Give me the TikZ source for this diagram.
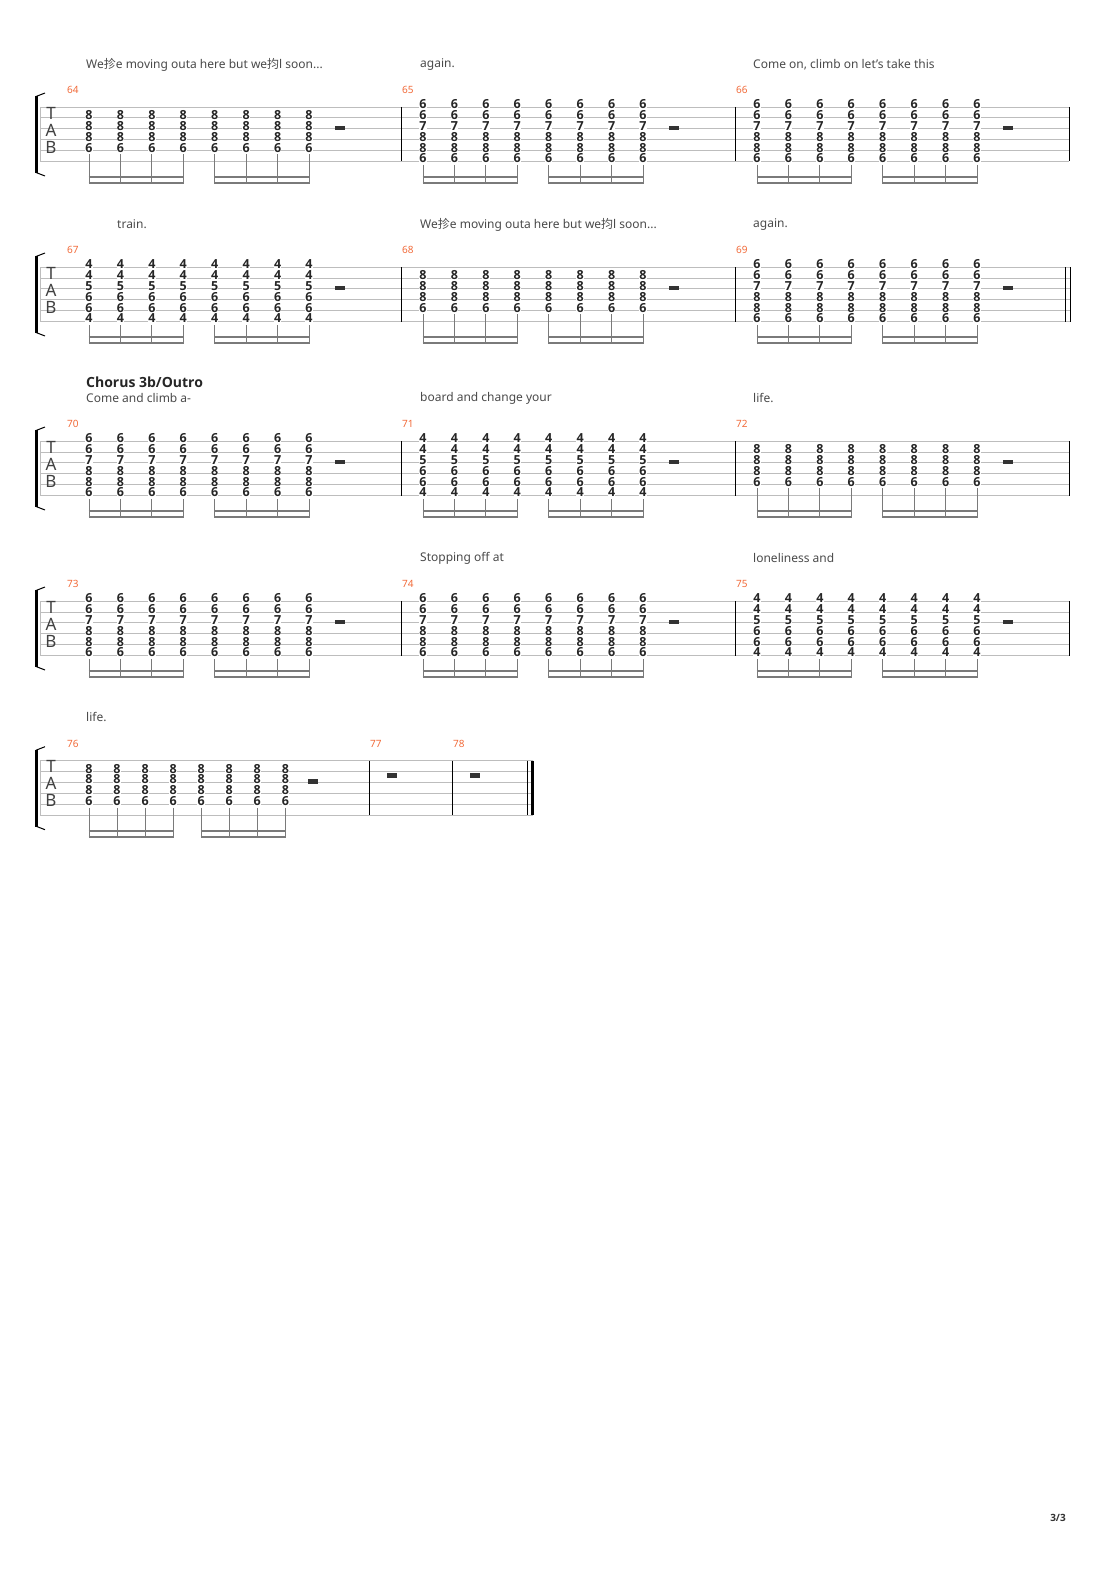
\documentclass[tikz,border=0pt]{standalone}
\usepackage{fontspec}
\setmainfont{Noto Sans}
\newfontfamily\cjk{Noto Sans CJK SC}
\newfontfamily\bfnum{Open Sans}
\definecolor{mnum}{HTML}{F26B3A}
\definecolor{lyr}{HTML}{4A4A4A}
\definecolor{stl}{HTML}{BDBDBD}
\definecolor{bm}{HTML}{7A7A7A}
\tikzset{
  num/.style={font=\bfnum\bfseries\fontsize{12.5}{12.5}\selectfont, text=black!85, fill=white, inner sep=0.2pt},
  lyric/.style={anchor=west, font=\fontsize{12}{12}\selectfont, text=lyr, inner sep=0},
  mlabel/.style={anchor=west, font=\fontsize{10}{10}\selectfont, text=mnum, inner sep=0},
  tabl/.style={font=\fontsize{17}{17}\selectfont, text=black!75, inner sep=0},
  sline/.style={stl, line width=0.8pt},
  beam/.style={bm, line width=2pt},
  stem/.style={bm, line width=0.8pt},
}
\newcommand\staffsys[2]{% yoff, xend
  \foreach \k in {0,...,5} \draw[sline] (40,#1+107+10.9*\k) -- (#2,#1+107+10.9*\k);
  \draw[stl,line width=0.8pt] (40,#1+107) -- (40,#1+161.5);
  \draw[line width=2.2pt] (36.5,#1+96) -- (36.5,#1+173);
  \draw[line width=1pt] (36,#1+96.5) .. controls (40,#1+95.5) .. (45,#1+93);
  \draw[line width=1pt] (36,#1+172.5) .. controls (40,#1+173.5) .. (45,#1+176);
  \node[tabl] at (51,#1+113) {T};
  \node[tabl] at (51,#1+130) {A};
  \node[tabl] at (51,#1+147) {B};
}
\newcommand\meas[5]{% x0, yoff, first string, list, step
  \foreach \i in {0,...,7} {
    \foreach \v [count=\s from #3] in {#4} {
      \node[num] at (#1+#5*\i, #2+107+10.9*\s-10.9-3) {\v};
      \xdef\laststr{\s}
    }
    \draw[stem] (#1+#5*\i, #2+107+10.9*\laststr-10.9+3.5) -- (#1+#5*\i, #2+184);
  }
  \draw[beam] (#1-0.4,#2+177) -- (#1+3*#5+0.4,#2+177);
  \draw[beam] (#1-0.4,#2+183) -- (#1+3*#5+0.4,#2+183);
  \draw[beam] (#1+4*#5-0.4,#2+177) -- (#1+7*#5+0.4,#2+177);
  \draw[beam] (#1+4*#5-0.4,#2+183) -- (#1+7*#5+0.4,#2+183);
  \fill[black!80] (#1+8*#5-5,#2+125.7) rectangle (#1+8*#5+5,#2+130);
}
\newcommand\bars[1]{%
  \draw[black, line width=0.9pt] (401,#1+107) -- (401,#1+161.5);
  \draw[black, line width=0.9pt] (735,#1+107) -- (735,#1+161.5);
}
\begin{document}
\begin{tikzpicture}[x=1pt,y=-1pt]
\useasboundingbox[fill=white] (0,0) rectangle (1110,1570);
% system 1
\staffsys{0}{1069}
\bars{0}
\draw[line width=0.9pt] (1069,107) -- (1069,161.5);
\meas{89}{0}{2}{8,8,8,6}{31.43}
\meas{423}{0}{1}{6,6,7,8,8,6}{31.43}
\meas{757}{0}{1}{6,6,7,8,8,6}{31.43}
\node[mlabel] at (67,90) {64};
\node[mlabel] at (402,90) {65};
\node[mlabel] at (736,90) {66};
\node[lyric] at (86,64.5) {We{\cjk 抮}e moving outa here but we{\cjk 抣}l soon...};
\node[lyric] at (420,64.5) {again.};
\node[lyric] at (753,64.5) {Come on, climb on let's take this};
% system 2
\staffsys{160}{1070}
\bars{160}
\draw[line width=0.9pt] (1065,267) -- (1065,321.5);
\draw[line width=0.9pt] (1070,267) -- (1070,321.5);
\meas{89}{160}{1}{4,4,5,6,6,4}{31.43}
\meas{423}{160}{2}{8,8,8,6}{31.43}
\meas{757}{160}{1}{6,6,7,8,8,6}{31.43}
\node[mlabel] at (67,250) {67};
\node[mlabel] at (402,250) {68};
\node[mlabel] at (736,250) {69};
\node[lyric] at (117,224.5) {train.};
\node[lyric] at (420,224.5) {We{\cjk 抮}e moving outa here but we{\cjk 抣}l soon...};
\node[lyric] at (753,224.5) {again.};
% system 3
\staffsys{334}{1069}
\bars{334}
\draw[line width=0.9pt] (1069,441) -- (1069,495.5);
\meas{89}{334}{1}{6,6,7,8,8,6}{31.43}
\meas{423}{334}{1}{4,4,5,6,6,4}{31.43}
\meas{757}{334}{2}{8,8,8,6}{31.43}
\node[mlabel] at (67,424) {70};
\node[mlabel] at (402,424) {71};
\node[mlabel] at (736,424) {72};
\node[anchor=west,inner sep=0,font=\bfnum\bfseries\fontsize{14}{14}\selectfont,text=black!85] at (86,382.5) {Chorus 3b/Outro};
\node[lyric] at (86,398) {Come and climb a-};
\node[lyric] at (420,398) {board and change your};
\node[lyric] at (753,398) {life.};
% system 4
\staffsys{494}{1069}
\bars{494}
\draw[line width=0.9pt] (1069,601) -- (1069,655.5);
\meas{89}{494}{1}{6,6,7,8,8,6}{31.43}
\meas{423}{494}{1}{6,6,7,8,8,6}{31.43}
\meas{757}{494}{1}{4,4,5,6,6,4}{31.43}
\node[mlabel] at (67,584) {73};
\node[mlabel] at (402,584) {74};
\node[mlabel] at (736,584) {75};
\node[lyric] at (420,558) {Stopping off at};
\node[lyric] at (753,558) {loneliness and};
% system 5
\staffsys{653.7}{533}
\draw[line width=0.9pt] (369,760.7) -- (369,815.2);
\draw[line width=0.9pt] (452,760.7) -- (452,815.2);
\draw[line width=0.9pt] (527,760.7) -- (527,815.2);
\draw[line width=3pt] (532,760.7) -- (532,815.2);
\meas{89}{653.7}{2}{8,8,8,6}{28.05}
\fill[black!80] (387,773) rectangle (397,777.5);
\fill[black!80] (470,773) rectangle (480,777.5);
\node[mlabel] at (67,743.7) {76};
\node[mlabel] at (370,743.7) {77};
\node[mlabel] at (453,743.7) {78};
\node[lyric] at (86,717) {life.};
% page number
\node[anchor=east,inner sep=0,font=\bfnum\bfseries\fontsize{10}{10}\selectfont,text=black!80] at (1066,1518) {3/3};
\end{tikzpicture}
\end{document}
